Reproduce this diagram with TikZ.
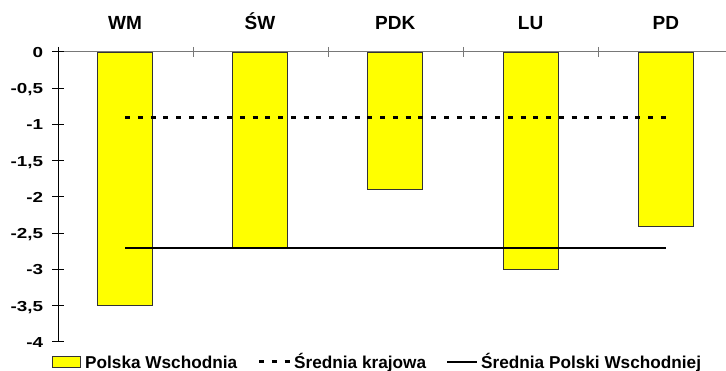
\documentclass[tikz,border=0pt]{standalone}
\usepackage{fontspec}
\setmainfont{Liberation Sans}
\definecolor{axgray}{RGB}{120,120,120}
\definecolor{baryellow}{RGB}{255,255,0}
\begin{document}
\begin{tikzpicture}[x=1pt,y=-1pt,
  barbox/.style={draw=black!80, line width=0.9pt, fill=baryellow},
  catlab/.style={font=\fontsize{19}{19}\selectfont\bfseries, anchor=base, inner sep=0pt},
  ylab/.style={font=\fontsize{14.5}{14.5}\selectfont\bfseries, anchor=base east, inner sep=0pt},
  leglab/.style={font=\fontsize{17.2}{17.2}\selectfont\bfseries, anchor=base west, inner sep=0pt},
  avgline/.style={line width=2.6pt, dash pattern=on 5pt off 7.76pt},
  eastline/.style={line width=2pt},
  yaxis/.style={line width=1pt, black},
  xaxis/.style={line width=1pt, axgray}
]
\useasboundingbox (0,0) rectangle (726,371);
% axes
\coordinate (origin) at (58,52);
\coordinate (ybottom) at (58,342);
\coordinate (xright) at (726,52);
\draw[xaxis] (origin) -- (xright);
\foreach \k in {0,...,4}{
  \draw[xaxis] ({58+135.1*\k},47) -- ({58+135.1*\k},57);
}
\draw[yaxis] (58,47) -- (ybottom);
\foreach \i [evaluate=\i as \yy using 52+36.25*\i] in {0,...,8}{
  \draw[yaxis] (52,\yy) -- (64,\yy);
}
% y labels
\foreach \i/\t in {0/0,1/{-0,5},2/-1,3/{-1,5},4/-2,5/{-2,5},6/-3,7/{-3,5},8/-4}{
  \node[ylab] (yl\i) at (43.3,{52+36.25*\i+5.3}) {\scalebox{1.3}[1]{\t}};
}
% bars
\foreach \n/\cx/\v in {wm/125/3.5, sw/260/2.7, pdk/395.3/1.9, lu/530.6/3.0, pd/665.9/2.4}{
  \draw[barbox] ({\cx-27.5},52) rectangle ({\cx+27.5},{52+72.5*\v});
  \coordinate (top\n) at (\cx,52);
}
% category labels
\node[catlab] (lwm) at (125,30) {WM};
\node[catlab] (lsw) at (260,30) {ŚW};
\node[catlab] (lpdk) at (395.3,30) {PDK};
\node[catlab] (llu) at (530.6,30) {LU};
\node[catlab] (lpd) at (665.9,30) {PD};
% average lines
\coordinate (kA) at (125,117.25);
\coordinate (kB) at (665.9,117.25);
\coordinate (eA) at (125,247.75);
\coordinate (eB) at (665.9,247.75);
\draw[avgline] (kA) -- (kB);
\draw[eastline] (eA) -- (eB);
% legend
\draw[barbox] (52,356) rectangle (80,367.3);
\node[leglab] (leg1) at (85,368.3) {Polska Wschodnia};
\coordinate (dA) at (259,361.5);
\coordinate (dB) at (289.5,361.5);
\draw[avgline] (dA) -- (dB);
\node[leglab] (leg2) at (294,368.3) {Średnia krajowa};
\coordinate (sA) at (447,361.7);
\coordinate (sB) at (477,361.7);
\draw[eastline] (sA) -- (sB);
\node[leglab] (leg3) at (481,368.3) {Średnia Polski Wschodniej};
\end{tikzpicture}
\end{document}
